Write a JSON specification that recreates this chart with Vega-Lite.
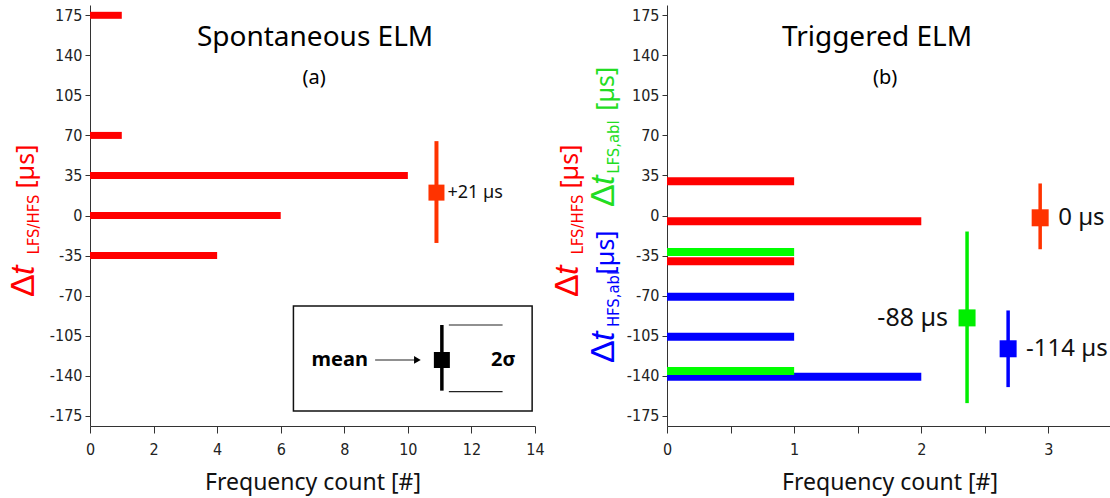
{
  "$schema": "https://vega.github.io/schema/vega-lite/v6.json",
  "background": "white",
  "padding": {"left": 6, "top": 5, "right": 0, "bottom": 2},
  "config": {
    "font": "Noto Sans",
    "view": {"stroke": null},
    "axis": {
      "grid": false,
      "domainColor": "#333",
      "domainWidth": 1,
      "tickColor": "#333",
      "tickWidth": 1,
      "labelColor": "#222",
      "labelFont": "Liberation Sans Narrow, DejaVu Sans Condensed, sans-serif",
      "labelFontSize": 16,
      "labelOverlap": false,
      "labelFlush": false,
      "titleFont": "Noto Sans",
      "titleFontWeight": "normal",
      "titleFontSize": 23,
      "titleColor": "#111"
    }
  },
  "datasets": {
    "bars": [
      {"panel": "a", "series": "LFS/HFS", "dt": 175, "count": 1},
      {"panel": "a", "series": "LFS/HFS", "dt": 70, "count": 1},
      {"panel": "a", "series": "LFS/HFS", "dt": 35, "count": 10},
      {"panel": "a", "series": "LFS/HFS", "dt": 0, "count": 6},
      {"panel": "a", "series": "LFS/HFS", "dt": -35, "count": 4},
      {"panel": "b", "series": "LFS/HFS", "dt": 30, "count": 1},
      {"panel": "b", "series": "LFS/HFS", "dt": -5, "count": 2},
      {"panel": "b", "series": "LFS/HFS", "dt": -40, "count": 1},
      {"panel": "b", "series": "HFS,abl", "dt": -71, "count": 1},
      {"panel": "b", "series": "HFS,abl", "dt": -106, "count": 1},
      {"panel": "b", "series": "HFS,abl", "dt": -141, "count": 2},
      {"panel": "b", "series": "LFS,abl", "dt": -32, "count": 1},
      {"panel": "b", "series": "LFS,abl", "dt": -136, "count": 1}
    ],
    "means": [
      {"panel": "a", "series": "LFS/HFS", "x": 10.9, "mean": 20, "lo": -24, "hi": 65, "label": "+21 µs", "side": "right"},
      {"panel": "b", "series": "LFS/HFS", "x": 2.935, "mean": -2, "lo": -29.5, "hi": 28, "label": "0 µs", "side": "right"},
      {"panel": "b", "series": "LFS,abl", "x": 2.36, "mean": -89.5, "lo": -164, "hi": -14, "label": "-88 µs", "side": "left"},
      {"panel": "b", "series": "HFS,abl", "x": 2.683, "mean": -116.5, "lo": -150, "hi": -83, "label": "-114 µs", "side": "right"}
    ],
    "ytitle": [
      {"panel": "a", "series": "LFS/HFS", "part": "D", "text": "Δ", "x": -1.762, "y": -71.2},
      {"panel": "a", "series": "LFS/HFS", "part": "t", "text": "t", "x": -1.762, "y": -52.0},
      {"panel": "a", "series": "LFS/HFS", "part": "sub", "text": "LFS/HFS", "x": -1.762, "y": -34.0},
      {"panel": "a", "series": "LFS/HFS", "part": "unit", "text": "[µs]", "x": -1.762, "y": 23.5},
      {"panel": "b", "series": "LFS/HFS", "part": "D", "text": "Δ", "x": -0.70, "y": -71.2},
      {"panel": "b", "series": "LFS/HFS", "part": "t", "text": "t", "x": -0.70, "y": -52.0},
      {"panel": "b", "series": "LFS/HFS", "part": "sub", "text": "LFS/HFS", "x": -0.70, "y": -34.0},
      {"panel": "b", "series": "LFS/HFS", "part": "unit", "text": "[µs]", "x": -0.70, "y": 23.5},
      {"panel": "b", "series": "LFS,abl", "part": "D", "text": "Δ", "x": -0.417, "y": 7.4},
      {"panel": "b", "series": "LFS,abl", "part": "t", "text": "t", "x": -0.417, "y": 26.7},
      {"panel": "b", "series": "LFS,abl", "part": "sub", "text": "LFS,abl", "x": -0.417, "y": 36.5},
      {"panel": "b", "series": "LFS,abl", "part": "unit", "text": "[µs]", "x": -0.417, "y": 91.5},
      {"panel": "b", "series": "HFS,abl", "part": "D", "text": "Δ", "x": -0.417, "y": -129},
      {"panel": "b", "series": "HFS,abl", "part": "t", "text": "t", "x": -0.417, "y": -109.7},
      {"panel": "b", "series": "HFS,abl", "part": "sub", "text": "HFS,abl", "x": -0.417, "y": -97.5},
      {"panel": "b", "series": "HFS,abl", "part": "unit", "text": "[µs]", "x": -0.417, "y": -51.5}
    ],
    "heads": [
      {"panel": "a", "kind": "title", "text": "Spontaneous ELM", "x": 7.08, "y": 155},
      {"panel": "a", "kind": "sub", "text": "(a)", "x": 7.05, "y": 120},
      {"panel": "b", "kind": "title", "text": "Triggered ELM", "x": 1.652, "y": 155},
      {"panel": "b", "kind": "sub", "text": "(b)", "x": 1.715, "y": 120}
    ],
    "inset": [
      {"kind": "box", "x": 6.4, "x2": 13.91, "y": -79.1, "y2": -170.9},
      {"kind": "arrow", "x": 8.97, "x2": 10.3, "y": -126.3},
      {"kind": "head", "x": 10.3, "y": -126.3},
      {"kind": "bar", "x": 11.07, "y": -95.7, "y2": -153.1},
      {"kind": "hline", "x": 11.29, "x2": 12.98, "y": -95.7},
      {"kind": "hline", "x": 11.29, "x2": 12.98, "y": -154},
      {"kind": "mean", "x": 11.07, "y": -126.3},
      {"kind": "word", "x": 6.97, "y": -126.3, "text": "mean"},
      {"kind": "sigma", "x": 13.0, "y": -126.3, "text": "2σ"}
    ]
  },
  "spacing": 132,
  "bounds": "flush",
  "resolve": {"scale": {"x": "independent", "y": "independent", "color": "independent"}},
  "hconcat": [
    {
      "width": 445,
      "height": 421,
      "layer": [
        {
          "data": {"name": "bars"},
          "transform": [{"filter": "datum.panel === 'a'"}],
          "mark": {"type": "bar", "orient": "horizontal", "size": 7, "color": "#ff0000"},
          "encoding": {
            "y": {
              "field": "dt", "type": "quantitative",
              "scale": {"domain": [-184, 184], "nice": false, "zero": false, "padding": 0},
              "axis": {
                "title": null,
                "values": [-175, -157.5, -140, -122.5, -105, -87.5, -70, -52.5, -35, -17.5, 0, 17.5, 35, 52.5, 70, 87.5, 105, 122.5, 140, 157.5, 175],
                "labelExpr": "datum.value % 35 === 0 ? '' + datum.value : ''",
                "tickSize": 5,
                "labelPadding": 3
              }
            },
            "x": {
              "field": "count", "type": "quantitative", "stack": null,
              "scale": {"domain": [0, 14], "nice": false, "padding": 0},
              "axis": {
                "title": "Frequency count [#]",
                "values": [0, 1, 2, 3, 4, 5, 6, 7, 8, 9, 10, 11, 12, 13, 14],
                "labelExpr": "datum.value % 2 === 0 ? '' + datum.value : ''",
                "tickSize": 7,
                "labelPadding": 8,
                "titlePadding": 14
              }
            }
          }
        },
        {
          "data": {"name": "means"},
          "transform": [{"filter": "datum.panel === 'a'"}],
          "layer": [
            {
              "mark": {"type": "rule", "strokeWidth": 4, "color": "#ff3300"},
              "encoding": {
                "x": {"field": "x", "type": "quantitative"},
                "y": {"field": "lo", "type": "quantitative"},
                "y2": {"field": "hi"}
              }
            },
            {
              "mark": {"type": "point", "shape": "square", "filled": true, "size": 256, "color": "#ff3300", "opacity": 1},
              "encoding": {
                "x": {"field": "x", "type": "quantitative"},
                "y": {"field": "mean", "type": "quantitative"}
              }
            },
            {
              "mark": {"type": "text", "align": "left", "baseline": "middle", "dx": 11, "fontSize": 18, "color": "#111"},
              "encoding": {
                "x": {"field": "x", "type": "quantitative"},
                "y": {"field": "mean", "type": "quantitative"},
                "text": {"field": "label"}
              }
            }
          ]
        },
        {
          "data": {"name": "inset"},
          "layer": [
            {
              "transform": [{"filter": "datum.kind === 'box'"}],
              "mark": {"type": "rect", "fillOpacity": 0, "stroke": "#111", "strokeWidth": 1.5},
              "encoding": {
                "x": {"field": "x", "type": "quantitative"},
                "x2": {"field": "x2"},
                "y": {"field": "y", "type": "quantitative"},
                "y2": {"field": "y2"}
              }
            },
            {
              "transform": [{"filter": "datum.kind === 'arrow' || datum.kind === 'hline'"}],
              "mark": {"type": "rule", "strokeWidth": 1.2, "color": "#222"},
              "encoding": {
                "x": {"field": "x", "type": "quantitative"},
                "x2": {"field": "x2"},
                "y": {"field": "y", "type": "quantitative"}
              }
            },
            {
              "transform": [{"filter": "datum.kind === 'head'"}],
              "mark": {"type": "point", "shape": "triangle-right", "filled": true, "size": 60, "color": "#000", "opacity": 1},
              "encoding": {
                "x": {"field": "x", "type": "quantitative"},
                "y": {"field": "y", "type": "quantitative"}
              }
            },
            {
              "transform": [{"filter": "datum.kind === 'bar'"}],
              "mark": {"type": "rule", "strokeWidth": 3.5, "color": "#000"},
              "encoding": {
                "x": {"field": "x", "type": "quantitative"},
                "y": {"field": "y", "type": "quantitative"},
                "y2": {"field": "y2"}
              }
            },
            {
              "transform": [{"filter": "datum.kind === 'mean'"}],
              "mark": {"type": "point", "shape": "square", "filled": true, "size": 256, "color": "#000", "opacity": 1},
              "encoding": {
                "x": {"field": "x", "type": "quantitative"},
                "y": {"field": "y", "type": "quantitative"}
              }
            },
            {
              "transform": [{"filter": "datum.kind === 'word'"}],
              "mark": {"type": "text", "align": "left", "baseline": "middle", "fontSize": 20, "fontWeight": "bold", "color": "#000"},
              "encoding": {
                "x": {"field": "x", "type": "quantitative"},
                "y": {"field": "y", "type": "quantitative"},
                "text": {"field": "text"}
              }
            },
            {
              "transform": [{"filter": "datum.kind === 'sigma'"}],
              "mark": {"type": "text", "align": "center", "baseline": "middle", "fontSize": 20, "fontWeight": "bold", "color": "#000"},
              "encoding": {
                "x": {"field": "x", "type": "quantitative"},
                "y": {"field": "y", "type": "quantitative"},
                "text": {"field": "text"}
              }
            }
          ]
        },
        {
          "data": {"name": "heads"},
          "transform": [{"filter": "datum.panel === 'a'"}],
          "layer": [
            {
              "transform": [{"filter": "datum.kind === 'title'"}],
              "mark": {"type": "text", "align": "center", "baseline": "middle", "fontSize": 28, "color": "#000"},
              "encoding": {
                "x": {"field": "x", "type": "quantitative"},
                "y": {"field": "y", "type": "quantitative"},
                "text": {"field": "text"}
              }
            },
            {
              "transform": [{"filter": "datum.kind === 'sub'"}],
              "mark": {"type": "text", "align": "center", "baseline": "middle", "fontSize": 20, "color": "#000"},
              "encoding": {
                "x": {"field": "x", "type": "quantitative"},
                "y": {"field": "y", "type": "quantitative"},
                "text": {"field": "text"}
              }
            }
          ]
        },
        {
          "data": {"name": "ytitle"},
          "transform": [{"filter": "datum.panel === 'a'"}],
          "layer": [
            {
              "transform": [{"filter": "datum.part === 'D'"}],
              "mark": {"type": "text", "angle": 270, "align": "left", "baseline": "alphabetic", "fontSize": 34, "font": "Liberation Sans", "color": "#ff0000", "clip": false},
              "encoding": {
                "x": {"field": "x", "type": "quantitative"},
                "y": {"field": "y", "type": "quantitative"},
                "text": {"field": "text"}
              }
            },
            {
              "transform": [{"filter": "datum.part === 't'"}],
              "mark": {"type": "text", "angle": 270, "align": "left", "baseline": "alphabetic", "fontSize": 34, "font": "Liberation Sans", "fontStyle": "italic", "color": "#ff0000", "clip": false},
              "encoding": {
                "x": {"field": "x", "type": "quantitative"},
                "y": {"field": "y", "type": "quantitative"},
                "text": {"field": "text"}
              }
            },
            {
              "transform": [{"filter": "datum.part === 'sub'"}],
              "mark": {"type": "text", "angle": 270, "align": "left", "baseline": "alphabetic", "dy": 5, "fontSize": 16.5, "font": "Liberation Sans Narrow, DejaVu Sans Condensed, sans-serif", "color": "#ff0000", "clip": false},
              "encoding": {
                "x": {"field": "x", "type": "quantitative"},
                "y": {"field": "y", "type": "quantitative"},
                "text": {"field": "text"}
              }
            },
            {
              "transform": [{"filter": "datum.part === 'unit'"}],
              "mark": {"type": "text", "angle": 270, "align": "left", "baseline": "alphabetic", "fontSize": 25, "color": "#ff0000", "clip": false},
              "encoding": {
                "x": {"field": "x", "type": "quantitative"},
                "y": {"field": "y", "type": "quantitative"},
                "text": {"field": "text"}
              }
            }
          ]
        }
      ]
    },
    {
      "width": 445,
      "height": 421,
      "resolve": {"scale": {"color": "independent"}},
      "layer": [
        {
          "data": {"name": "bars"},
          "transform": [{"filter": "datum.panel === 'b'"}],
          "mark": {"type": "bar", "orient": "horizontal", "size": 8},
          "encoding": {
            "y": {
              "field": "dt", "type": "quantitative",
              "scale": {"domain": [-184, 184], "nice": false, "zero": false, "padding": 0},
              "axis": {
                "title": null,
                "values": [-175, -157.5, -140, -122.5, -105, -87.5, -70, -52.5, -35, -17.5, 0, 17.5, 35, 52.5, 70, 87.5, 105, 122.5, 140, 157.5, 175],
                "labelExpr": "datum.value % 35 === 0 ? '' + datum.value : ''",
                "tickSize": 5,
                "labelPadding": 3
              }
            },
            "x": {
              "field": "count", "type": "quantitative", "stack": null,
              "scale": {"domain": [0, 3.5], "nice": false, "padding": 0},
              "axis": {
                "title": "Frequency count [#]",
                "values": [0, 0.5, 1, 1.5, 2, 2.5, 3],
                "labelExpr": "datum.value % 1 === 0 ? '' + datum.value : ''",
                "tickSize": 7,
                "labelPadding": 8,
                "titlePadding": 14
              }
            },
            "color": {
              "field": "series", "type": "nominal", "legend": null,
              "scale": {"domain": ["LFS/HFS", "LFS,abl", "HFS,abl"], "range": ["#ff0000", "#00ff00", "#0000ff"]}
            }
          }
        },
        {
          "data": {"name": "means"},
          "transform": [{"filter": "datum.panel === 'b'"}],
          "layer": [
            {
              "mark": {"type": "rule", "strokeWidth": 3.5},
              "encoding": {
                "x": {"field": "x", "type": "quantitative"},
                "y": {"field": "lo", "type": "quantitative"},
                "y2": {"field": "hi"},
                "color": {
                  "field": "series", "type": "nominal", "legend": null,
                  "scale": {"domain": ["LFS/HFS", "LFS,abl", "HFS,abl"], "range": ["#ff3300", "#00ee00", "#0000ff"]}
                }
              }
            },
            {
              "mark": {"type": "point", "shape": "square", "filled": true, "size": 289, "opacity": 1},
              "encoding": {
                "x": {"field": "x", "type": "quantitative"},
                "y": {"field": "mean", "type": "quantitative"},
                "color": {
                  "field": "series", "type": "nominal", "legend": null,
                  "scale": {"domain": ["LFS/HFS", "LFS,abl", "HFS,abl"], "range": ["#ff3300", "#00ee00", "#0000ff"]}
                }
              }
            },
            {
              "transform": [{"filter": "datum.side === 'right'"}],
              "mark": {"type": "text", "align": "left", "baseline": "middle", "dx": 18, "fontSize": 24, "color": "#111"},
              "encoding": {
                "x": {"field": "x", "type": "quantitative"},
                "y": {"field": "mean", "type": "quantitative"},
                "text": {"field": "label"}
              }
            },
            {
              "transform": [{"filter": "datum.side === 'left'"}],
              "mark": {"type": "text", "align": "right", "baseline": "middle", "dx": -19, "fontSize": 25, "color": "#111"},
              "encoding": {
                "x": {"field": "x", "type": "quantitative"},
                "y": {"field": "mean", "type": "quantitative"},
                "text": {"field": "label"}
              }
            }
          ]
        },
        {
          "data": {"name": "heads"},
          "transform": [{"filter": "datum.panel === 'b'"}],
          "layer": [
            {
              "transform": [{"filter": "datum.kind === 'title'"}],
              "mark": {"type": "text", "align": "center", "baseline": "middle", "fontSize": 28, "color": "#000"},
              "encoding": {
                "x": {"field": "x", "type": "quantitative"},
                "y": {"field": "y", "type": "quantitative"},
                "text": {"field": "text"}
              }
            },
            {
              "transform": [{"filter": "datum.kind === 'sub'"}],
              "mark": {"type": "text", "align": "center", "baseline": "middle", "fontSize": 20, "color": "#000"},
              "encoding": {
                "x": {"field": "x", "type": "quantitative"},
                "y": {"field": "y", "type": "quantitative"},
                "text": {"field": "text"}
              }
            }
          ]
        },
        {
          "data": {"name": "ytitle"},
          "transform": [{"filter": "datum.panel === 'b'"}],
          "layer": [
            {
              "transform": [{"filter": "datum.part === 'D'"}],
              "mark": {"type": "text", "angle": 270, "align": "left", "baseline": "alphabetic", "fontSize": 34, "font": "Liberation Sans", "clip": false},
              "encoding": {
                "x": {"field": "x", "type": "quantitative"},
                "y": {"field": "y", "type": "quantitative"},
                "text": {"field": "text"},
                "color": {"field": "series", "type": "nominal", "legend": null, "scale": {"domain": ["LFS/HFS", "LFS,abl", "HFS,abl"], "range": ["#ff0000", "#22dd22", "#0000ff"]}}
              }
            },
            {
              "transform": [{"filter": "datum.part === 't'"}],
              "mark": {"type": "text", "angle": 270, "align": "left", "baseline": "alphabetic", "fontSize": 34, "font": "Liberation Sans", "fontStyle": "italic", "clip": false},
              "encoding": {
                "x": {"field": "x", "type": "quantitative"},
                "y": {"field": "y", "type": "quantitative"},
                "text": {"field": "text"},
                "color": {"field": "series", "type": "nominal", "legend": null, "scale": {"domain": ["LFS/HFS", "LFS,abl", "HFS,abl"], "range": ["#ff0000", "#22dd22", "#0000ff"]}}
              }
            },
            {
              "transform": [{"filter": "datum.part === 'sub'"}],
              "mark": {"type": "text", "angle": 270, "align": "left", "baseline": "alphabetic", "dy": 5, "fontSize": 16.5, "font": "Liberation Sans Narrow, DejaVu Sans Condensed, sans-serif", "clip": false},
              "encoding": {
                "x": {"field": "x", "type": "quantitative"},
                "y": {"field": "y", "type": "quantitative"},
                "text": {"field": "text"},
                "color": {"field": "series", "type": "nominal", "legend": null, "scale": {"domain": ["LFS/HFS", "LFS,abl", "HFS,abl"], "range": ["#ff0000", "#22dd22", "#0000ff"]}}
              }
            },
            {
              "transform": [{"filter": "datum.part === 'unit'"}],
              "mark": {"type": "text", "angle": 270, "align": "left", "baseline": "alphabetic", "fontSize": 25, "clip": false},
              "encoding": {
                "x": {"field": "x", "type": "quantitative"},
                "y": {"field": "y", "type": "quantitative"},
                "text": {"field": "text"},
                "color": {"field": "series", "type": "nominal", "legend": null, "scale": {"domain": ["LFS/HFS", "LFS,abl", "HFS,abl"], "range": ["#ff0000", "#22dd22", "#0000ff"]}}
              }
            }
          ]
        }
      ]
    }
  ]
}
